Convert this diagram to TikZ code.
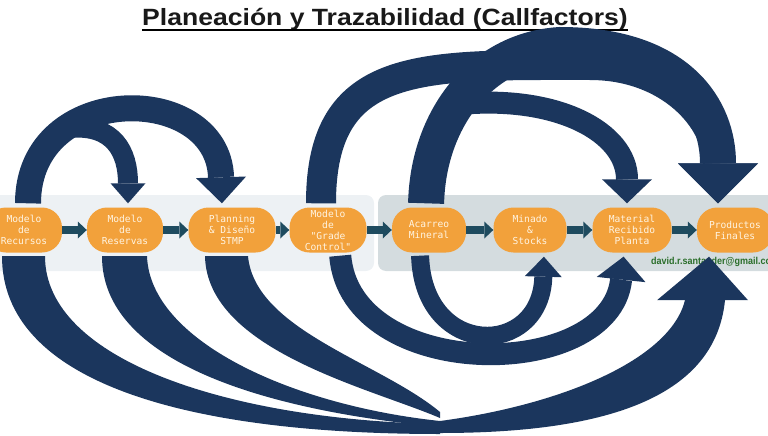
\documentclass[tikz,border=0pt]{standalone}
\usepackage{fontspec}
\setmainfont{Liberation Sans}
\setmonofont{DejaVu Sans Mono}
\usepackage{graphicx}
\usetikzlibrary{arrows.meta,positioning}
\definecolor{naranja}{HTML}{F2A13B}
\definecolor{crema}{HTML}{FFF4E2}
\definecolor{azul}{HTML}{1B365D}
\definecolor{petroleo}{HTML}{1E4B5F}
\definecolor{banda1}{HTML}{EDF1F4}
\definecolor{banda2}{HTML}{D4DCDF}
\definecolor{correo}{HTML}{2A6E2A}
\tikzset{etapa/.style={fill=naranja,rounded corners=20pt,minimum height=45pt,inner xsep=2pt,inner ysep=1pt,align=center,text=crema,font=\ttfamily\fontsize{9.6}{11}\selectfont},
 link/.style={petroleo,line width=8pt,-{Triangle[width=17pt,length=9pt,line width=0pt]}},
 arco/.style={azul,line width=#1},
 punta/.style 2 args={-{Triangle[width=#1,length=#2,line width=0pt]},shorten >=4pt}}
\begin{document}
\begin{tikzpicture}[x=1pt,y=-1pt]
\useasboundingbox (0,0) rectangle (768,436);
\fill[banda1,rounded corners=8pt] (-10,195) rectangle (374,271);
\fill[banda2,rounded corners=8pt] (378,195) rectangle (790,271);
\node[anchor=base,inner sep=0pt,text=black!90,font=\bfseries\fontsize{23.5}{28}\selectfont] (titulo) at (385,26) {\scalebox{1.13}[1]{Planeación y Trazabilidad (Callfactors)}};
\draw[line width=2.2pt] ([yshift=-4pt]titulo.base west) -- ([yshift=-4pt]titulo.base east);
% etapas
\foreach\nm/\x/\w/\txt in {rec/24/76/{Modelo\\de\\Recursos},res/125/76/{Modelo\\de\\Reservas},plan/232/87/{Planning\\\& Diseño\\STMP},gc/328/77/{Modelo\\de\\"Grade\\Control"},aca/429/74/{Acarreo\\Mineral},min/530/73/{Minado\\\&\\Stocks},mat/632/79/{Material\\Recibido\\Planta},prod/735/76/{Productos\\Finales}}
 \node[etapa,minimum width=\w pt](\nm)at(\x,230){\txt};
\node[anchor=base west,inner sep=0pt,text=correo,font=\bfseries\fontsize{10}{12}\selectfont] (email) at (651,264) {\scalebox{.9}[1]{david.r.santander@gmail.com}};
\foreach\a/\b in{rec/res,res/plan,plan/gc,gc/aca,aca/min,min/mat,mat/prod}\draw[link](\a)--(\b);
% arcos superiores
\coordinate (cimaC) at (590,65);
\coordinate (cimaD) at (560,45);
\draw[arco=26pt,punta={50pt}{26pt},shorten <=4pt] ([xshift=4pt]rec.north) .. controls +(0,-126) and +(-4,-126) .. ([xshift=-10pt]plan.north) coordinate[pos=.3](a1);
\draw[arco=20pt,punta={35pt}{20pt}] (a1) .. controls +(45,-4) and +(0,-55) .. ([xshift=3pt]res.north);
\draw[arco=30pt,punta={80pt}{40pt},shorten <=4pt] ([xshift=-7pt]gc.north) .. controls +(0,-147.5) and +(-170,0) .. (cimaC) .. controls +(80,0) and +(0,-87.5) .. ([xshift=-17pt]prod.north);
\draw[arco=36pt,punta={80pt}{40pt},shorten <=4pt] ([xshift=-3pt]aca.north) .. controls +(2,-87.5) and +(-80,5) .. (cimaD) coordinate[pos=.45](d1) .. controls +(120,0) and +(0,-97.5) .. ([xshift=-17pt]prod.north);
\draw[arco=22pt,punta={50pt}{24pt}] (d1) .. controls +(100,-10) and +(0,-75) .. ([xshift=-5pt]mat.north);
% arcos inferiores
\coordinate (low) at (440,426);
\fill[azul] ([xshift=-22pt,yshift=-3.5pt]rec.south) .. controls +(0,124) and +(-260,0) .. ([yshift=-8pt]low) -- ([yshift=2pt]low) .. controls +(-210,-4) and +(0,104) .. ([xshift=21pt,yshift=-3.5pt]rec.south) -- cycle;
\fill[azul] ([xshift=-23pt,yshift=-3.5pt]res.south) .. controls +(0,104) and +(-180,-17) .. ([yshift=-1pt]low) -- ([yshift=5pt]low) .. controls +(-150,-16) and +(3,84) .. ([xshift=22pt,yshift=-3.5pt]res.south) -- cycle;
\fill[azul] ([xshift=-27pt,yshift=-3.5pt]plan.south) .. controls +(2,94) and +(-70,-30) .. ([yshift=8pt]low) -- ([yshift=14pt]low) .. controls +(-60,-50) and +(7,74) .. ([xshift=16pt,yshift=-3.5pt]plan.south) -- cycle;
\coordinate (tipP) at ([xshift=-26pt,yshift=-4pt]prod.south);
\fill[azul] ([yshift=5pt]low) .. controls +(120,-16) and +(-15,60) .. ([shift={(-24,43.5)}]tipP) -- ++(-28,0) -- (tipP) -- ++(39,43.5) -- ++(-23,0) .. controls +(-10,100) and +(160,0) .. ([yshift=-7pt]low) -- cycle;
\draw[arco=22pt,punta={49pt}{23pt},shorten <=3pt] ([xshift=12pt]gc.south) .. controls +(10,130) and +(-14,130) .. ([xshift=-8pt]mat.south);
\draw[arco=18pt,punta={37pt}{20pt},shorten <=3pt] ([xshift=-9pt]aca.south) .. controls +(3,106) and +(-3,106) .. ([xshift=14pt]min.south);
\end{tikzpicture}
\end{document}
